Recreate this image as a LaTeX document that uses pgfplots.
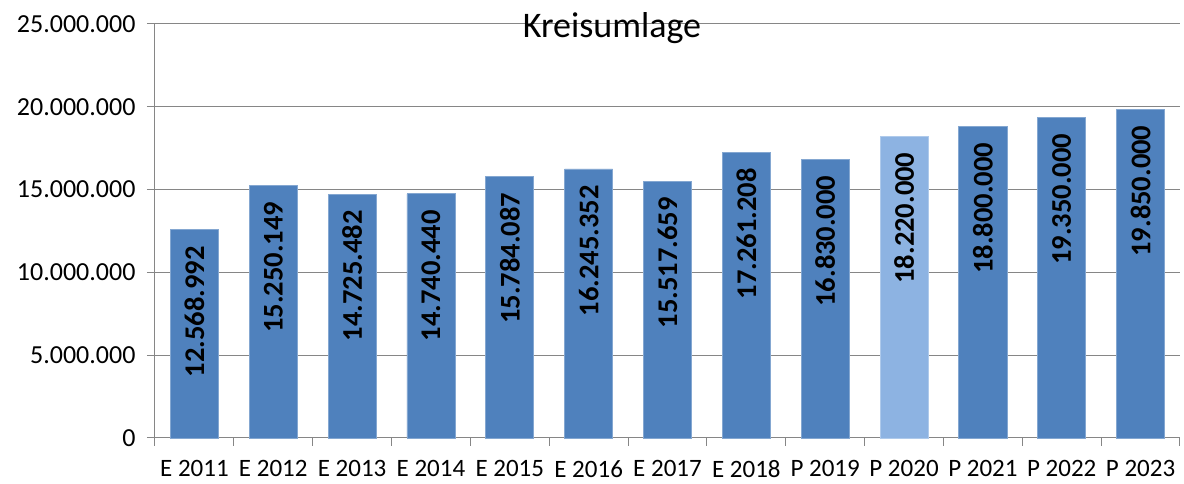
\documentclass[border=0pt]{standalone}
\usepackage{pgfplots}
\pgfplotsset{compat=1.18}
\usepackage{fontspec}
\setmainfont{Carlito}
\definecolor{barblue}{HTML}{4F81BD}
\definecolor{barlight}{HTML}{8DB3E2}
\definecolor{axgray}{HTML}{868686}
\begin{document}
\begin{tikzpicture}
\useasboundingbox (0,0) rectangle (1184pt,484pt);
\begin{axis}[
  at={(155pt,46pt)}, anchor=south west,
  scale only axis, width=1025pt, height=414pt,
  xmin=-0.5, xmax=12.5, ymin=0, ymax=25000000,
  scaled y ticks=false,
  axis x line*=bottom, axis y line*=left,
  axis line style={axgray, line width=1pt},
  ytick={0,5000000,10000000,15000000,20000000,25000000},
  yticklabels={0,5.000.000,10.000.000,15.000.000,20.000.000,25.000.000},
  ymajorgrids, grid style={axgray, line width=1pt},
  y tick label style={font=\fontsize{26}{26}\selectfont, xshift=-8pt},
  ytick style={axgray, line width=1pt},
  major tick length=8pt,
  ytick pos=left, tick align=outside,
  xtick={0,...,12},
  xticklabels={E 2011,E 2012,E 2013,E 2014,E 2015,E 2016,E 2017,E 2018,P 2019,P 2020,P 2021,P 2022,P 2023},
  x tick label style={font=\fontsize{25}{25}\selectfont, yshift=-11pt},
  xtick style={draw=none},
  minor xtick={-0.5,0.5,...,12.5},
  minor x tick style={axgray, line width=1pt, draw=axgray},
  minor tick length=8pt,
  xtick pos=bottom,
  ybar, bar width=0.61, bar shift=0pt,
  point meta=explicit symbolic,
  nodes near coords={\pgfplotspointmeta},
  every node near coord/.append style={font=\bfseries\fontsize{28.5}{28.5}\selectfont, yshift=-16pt, rotate=90, anchor=east, inner sep=0pt},
  clip=false,
]
\addplot[fill=barblue, draw=barblue!70!white, line width=0.8pt] table[x=x, y=y, meta=l] {
x y l
0 12568992 12.568.992
1 15250149 15.250.149
2 14725482 14.725.482
3 14740440 14.740.440
4 15784087 15.784.087
5 16245352 16.245.352
6 15517659 15.517.659
7 17261208 17.261.208
8 16830000 16.830.000
10 18800000 18.800.000
11 19350000 19.350.000
12 19850000 19.850.000
};
\addplot[fill=barlight, draw=barlight!70!white, line width=0.8pt] table[x=x, y=y, meta=l] {
x y l
9 18220000 18.220.000
};
\end{axis}
\node[font=\fontsize{36}{36}\selectfont, anchor=center] at (612pt,456pt) {Kreisumlage};
\end{tikzpicture}
\end{document}
